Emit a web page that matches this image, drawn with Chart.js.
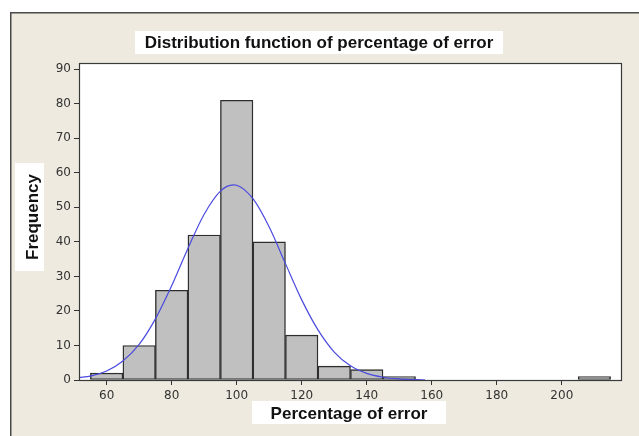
<!DOCTYPE html>
<html>
<head>
<meta charset="utf-8">
<script src="https://cdn.jsdelivr.net/npm/chart.js@4.4.1/dist/chart.umd.min.js"></script>
<style>
html,body{margin:0;padding:0;background:#fff;}
canvas{display:block;}
</style>
</head>
<body>
<canvas id="c" width="639" height="436"></canvas>
<script>
// Histogram bins (bin centres, width 10) and frequencies
const binCenters = [60, 70, 80, 90, 100, 110, 120, 130, 140, 150, 210];
const frequencies = [2, 10, 26, 42, 81, 40, 13, 4, 3, 1, 1];
// Fitted curve
const curveX = [51.5, 55, 60, 65, 70, 75, 80, 85, 90, 95, 99, 100, 105, 110, 115, 120, 125, 130, 135, 140, 145, 150, 155, 158];
const curveY = [0.7, 1.1, 2.6, 5.5, 10.3, 17.7, 27.3, 38.1, 48.0, 54.7, 56.5, 56.4, 52.5, 44.3, 33.7, 23.2, 14.5, 8.1, 4.1, 1.9, 0.8, 0.3, 0.1, 0];
const xTicks = [60, 80, 100, 120, 140, 160, 180, 200];
const yTicks = [0, 10, 20, 30, 40, 50, 60, 70, 80, 90];
const titleText = "Distribution function of percentage of error";
const xTitle = "Percentage of error";
const yTitle = "Frequency";

const barData = binCenters.map((x, i) => ({x: x, y: frequencies[i]}));
const curveData = curveX.map((x, i) => ({x: x, y: curveY[i]}));

const decor = {
  id: 'decor',
  beforeDraw(chart) {
    const ctx = chart.ctx;
    const W = chart.width, H = chart.height;
    ctx.save();
    ctx.fillStyle = '#ffffff';
    ctx.fillRect(0, 0, W, H);
    ctx.fillStyle = '#eeeae0';
    ctx.fillRect(10, 12, W - 10, H - 12);
    ctx.strokeStyle = '#4a4a4a';
    ctx.lineWidth = 1.5;
    ctx.beginPath();
    ctx.moveTo(10.75, H); ctx.lineTo(10.75, 12.75); ctx.lineTo(W, 12.75);
    ctx.stroke();
    const a = chart.chartArea;
    ctx.fillStyle = '#ffffff';
    ctx.fillRect(a.left, a.top, a.right - a.left, a.bottom - a.top);
    ctx.restore();
  },
  afterDraw(chart) {
    const ctx = chart.ctx;
    const a = chart.chartArea;
    ctx.save();
    // plot frame
    ctx.strokeStyle = '#3a3a3a';
    ctx.lineWidth = 1.2;
    ctx.strokeRect(a.left + 0.5, a.top + 0.5, a.right - a.left, a.bottom - a.top);
    // title box
    ctx.fillStyle = '#ffffff';
    ctx.fillRect(135, 31, 368, 23);
    ctx.fillStyle = '#111111';
    ctx.font = 'bold 17px "Liberation Sans", Arial, sans-serif';
    ctx.textAlign = 'center';
    ctx.textBaseline = 'alphabetic';
    ctx.fillText(titleText, 319, 48);
    // x title box
    ctx.fillStyle = '#ffffff';
    ctx.fillRect(252, 401, 194, 23);
    ctx.fillStyle = '#111111';
    ctx.fillText(xTitle, 349, 419);
    // y title box
    ctx.fillStyle = '#ffffff';
    ctx.fillRect(15, 163, 29, 108);
    ctx.translate(38, 217);
    ctx.rotate(-Math.PI / 2);
    ctx.fillStyle = '#111111';
    ctx.fillText(yTitle, 0, 0);
    ctx.restore();
  }
};

const tickFont = {family: '"DejaVu Sans", sans-serif', size: 12};

new Chart(document.getElementById('c'), {
  type: 'bar',
  data: {
    datasets: [
      {
        type: 'line',
        data: curveData,
        borderColor: '#4a4ae0',
        borderWidth: 1.2,
        pointRadius: 0,
        tension: 0.4,
        cubicInterpolationMode: 'monotone',
        fill: false,
        order: 0
      },
      {
        type: 'bar',
        data: barData,
        backgroundColor: '#c0c0c0',
        borderColor: '#2e2e2e',
        borderWidth: 1.4,
        borderSkipped: false,
        barPercentage: 1.0,
        categoryPercentage: 1.0,
        order: 1
      }
    ]
  },
  options: {
    responsive: false,
    animation: false,
    devicePixelRatio: 1,
    layout: {padding: {top: 63, right: 18, left: 0, bottom: 0}},
    plugins: {legend: {display: false}, tooltip: {enabled: false}, title: {display: false}},
    scales: {
      x: {
        type: 'linear',
        offset: false,
        min: 51.5,
        max: 218.2,
        afterBuildTicks(scale) { scale.ticks = xTicks.map(v => ({value: v})); },
        afterFit(scale) { scale.height = 56; },
        ticks: {font: tickFont, color: '#333333', padding: 4, maxRotation: 0, autoSkip: false},
        grid: {offset: false, drawOnChartArea: false, drawTicks: true, tickLength: 5, color: '#333333', lineWidth: 1},
        border: {display: true, color: '#333333', width: 1}
      },
      y: {
        type: 'linear',
        min: 0,
        max: 91.8,
        afterBuildTicks(scale) { scale.ticks = yTicks.map(v => ({value: v})); },
        afterFit(scale) { scale.width = 79; },
        ticks: {font: tickFont, color: '#333333', padding: 3, autoSkip: false},
        grid: {drawOnChartArea: false, drawTicks: true, tickLength: 5, color: '#333333', lineWidth: 1},
        border: {display: true, color: '#333333', width: 1}
      }
    }
  },
  plugins: [decor]
});
</script>
</body>
</html>
